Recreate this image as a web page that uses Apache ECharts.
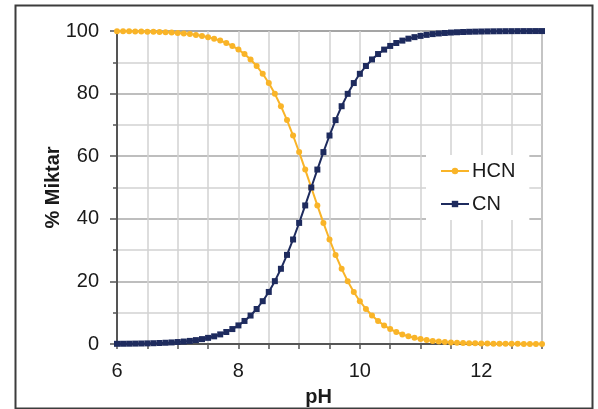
<!DOCTYPE html>
<html><head><meta charset="utf-8">
<script src="https://cdn.jsdelivr.net/npm/echarts@6/dist/echarts.min.js"></script>
<style>html,body{margin:0;padding:0;background:#fff}#c{width:598px;height:409px}</style>
</head><body><div id="c"></div>
<script>
var pH = [6.0,6.1,6.2,6.3,6.4,6.5,6.6,6.7,6.8,6.9,
7.0,7.1,7.2,7.3,7.4,7.5,7.6,7.7,7.8,7.9,
8.0,8.1,8.2,8.3,8.4,8.5,8.6,8.7,8.8,8.9,
9.0,9.1,9.2,9.3,9.4,9.5,9.6,9.7,9.8,9.9,
10.0,10.1,10.2,10.3,10.4,10.5,10.6,10.7,10.8,10.9,
11.0,11.1,11.2,11.3,11.4,11.5,11.6,11.7,11.8,11.9,
12.0,12.1,12.2,12.3,12.4,12.5,12.6,12.7,12.8,12.9,13.0];
var hcn = [99.94,99.92,99.90,99.87,99.84,99.80,99.75,99.68,99.60,99.50,
99.37,99.21,99.01,98.76,98.44,98.04,97.55,96.93,96.17,95.23,
94.06,92.64,90.91,88.82,86.32,83.37,79.92,75.97,71.53,66.61,
61.31,55.73,50.00,44.27,38.69,33.39,28.47,24.03,20.08,16.63,
13.68,11.18,9.09,7.36,5.94,4.77,3.83,3.07,2.45,1.96,
1.56,1.24,0.99,0.79,0.63,0.50,0.40,0.32,0.25,0.20,
0.16,0.13,0.10,0.08,0.06,0.05,0.04,0.03,0.03,0.02,0.02];
var cn = [0.06,0.08,0.10,0.13,0.16,0.20,0.25,0.32,0.40,0.50,
0.63,0.79,0.99,1.24,1.56,1.96,2.45,3.07,3.83,4.77,
5.94,7.36,9.09,11.18,13.68,16.63,20.08,24.03,28.47,33.39,
38.69,44.27,50.00,55.73,61.31,66.61,71.53,75.97,79.92,83.37,
86.32,88.82,90.91,92.64,94.06,95.23,96.17,96.93,97.55,98.04,
98.44,98.76,99.01,99.21,99.37,99.50,99.60,99.68,99.75,99.80,
99.84,99.87,99.90,99.92,99.94,99.95,99.96,99.97,99.97,99.98,99.98];
var xTickLabels = ['6','8','10','12'];
var yTickLabels = ['0','20','40','60','80','100'];
var seriesNames = ['HCN','CN'];
var xTitle = 'pH', yTitle = '% Miktar';

function pairs(v){ return pH.map(function(x,i){return [x,v[i]];}); }
var chart = echarts.init(document.getElementById('c'), null, {renderer:'canvas'});
var font = 'Liberation Sans, Arial, sans-serif';
chart.setOption({
  animation:false,
  backgroundColor:'#fff',
  grid:{left:117,right:56,top:31,bottom:65,show:true,borderColor:'#7a7a7a',borderWidth:1.5,backgroundColor:'transparent',outerBoundsMode:'none',containLabel:false},
  graphic:[{type:'rect',left:13,top:3,shape:{width:577,height:403},style:{fill:'none',stroke:'#3c3c3c',lineWidth:2},silent:true,z:-1}],
  legend:{left:426,top:155,orient:'vertical',backgroundColor:'#fff',padding:[6,14,6,14],itemGap:13,itemWidth:28,itemHeight:8,
    textStyle:{fontFamily:font,fontSize:20,color:'#1a1a1a',padding:[0,0,0,-2]},data:seriesNames, z:10},
  xAxis:{type:'value',min:6,max:13,interval:0.5,
    name:xTitle,nameLocation:'middle',nameGap:43,nameMoveOverlap:false,nameTextStyle:{fontFamily:font,fontSize:20,fontWeight:'bold',color:'#1a1a1a',padding:[0,22,0,0]},
    axisLine:{lineStyle:{color:'#555',width:2}},
    axisTick:{show:true,length:5,inside:false,lineStyle:{color:'#555',width:1.5}},
    axisLabel:{fontFamily:font,fontSize:20,color:'#1a1a1a',margin:17,
      formatter:function(v){var s=String(v);return xTickLabels.indexOf(s)>=0?s:'';}},
    splitLine:{show:true,lineStyle:{color:'#d2d2d2',width:1.5}}},
  yAxis:[{type:'value',min:0,max:100,interval:10,
    name:yTitle,nameLocation:'middle',nameGap:54,nameMoveOverlap:false,nameRotate:90,nameTextStyle:{fontFamily:font,fontSize:20,fontWeight:'bold',color:'#1a1a1a'},
    axisLine:{show:true,lineStyle:{color:'#555',width:2}},
    axisTick:{show:true,length:4,lineStyle:{color:'#555',width:1.5}},
    axisLabel:{fontFamily:font,fontSize:20,color:'#1a1a1a',margin:18,
      formatter:function(v){var s=String(v);return yTickLabels.indexOf(s)>=0?s:'';}},
    splitLine:{show:true,lineStyle:{color:['#a8a8a8','#d2d2d2'],width:1.5}}},
   {type:'value',min:0,max:100,interval:20,position:'left',
    axisLine:{show:false},axisLabel:{show:false},splitLine:{show:false},
    axisTick:{show:true,length:7,lineStyle:{color:'#555',width:1.5}}}],
  series:[
    {name:seriesNames[0],type:'line',data:pairs(hcn),symbol:'circle',symbolSize:6,
     lineStyle:{color:'#F9B428',width:2},itemStyle:{color:'#F9B428'},z:3},
    {name:seriesNames[1],type:'line',data:pairs(cn),symbol:'rect',symbolSize:6,
     lineStyle:{color:'#1E2B5E',width:2},itemStyle:{color:'#1E2B5E'},z:4}
  ]
});
</script></body></html>
